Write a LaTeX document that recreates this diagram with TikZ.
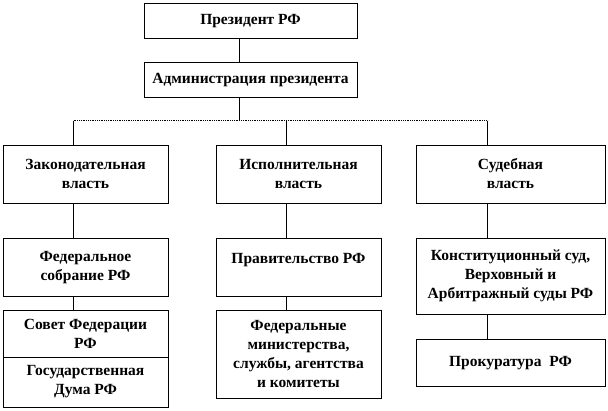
\documentclass[tikz,border=0pt]{standalone}
\usepackage{fontspec}
\setmainfont{Liberation Serif}[BoldFont={Liberation Serif Bold}]
\usetikzlibrary{positioning,calc}

\begin{document}
\begin{tikzpicture}[x=1pt,y=-1pt,
    font=\rmfamily\bfseries\fontsize{15.5}{19}\selectfont,
    box/.style={draw, line width=0.8pt, align=center, inner sep=0pt},
    link/.style={line width=0.8pt},
    bus/.style={line width=0.8pt, densely dotted}]
  \useasboundingbox (0,0) rectangle (608,410);
  % top
  \node[box, minimum width=213, minimum height=35] (pres) at (250.5,21) {Президент РФ};
  \node[box, minimum width=213, minimum height=35] (admin) at (250.5,79.7) {Администрация президента};
  % branches
  \node[box, minimum width=165, minimum height=58] (leg) at (85.5,174) {Законодательная\\власть};
  \node[box, minimum width=165, minimum height=58] (exec) at (298.5,174) {Исполнительная\\власть};
  \node[box, minimum width=189, minimum height=58] (jud) at (510.5,174) {Судебная\\власть};
  % legislative
  \node[box, minimum width=165, minimum height=58] (fed) at (85.5,267.5) {Федеральное\\собрание РФ};
  \node[box, minimum width=165, minimum height=47] (sovet) at (85.5,333.5) {Совет Федерации\\РФ};
  \node[box, minimum width=165, minimum height=50] (duma) at (85.5,382) {Государственная\\Дума РФ};
  % executive
  \node[box, minimum width=165, minimum height=58] (prav) at (298.5,267.5) {Правительство РФ\\~};
  \node[box, minimum width=165, minimum height=88] (minist) at (298.5,354) {Федеральные\\министерства,\\службы, агентства\\и комитеты};
  % judicial
  \node[box, minimum width=189, minimum height=76] (konst) at (510.5,276.3) {Конституционный суд,\\Верховный и\\Арбитражный суды РФ};
  \node[box, minimum width=189, minimum height=46.7] (prok) at (510.5,362.7) {Прокуратура~ РФ};

  \coordinate (trunk) at (239.5,120.7);
  \coordinate (busL) at (73.5,120.7);
  \coordinate (busM) at (286.5,120.7);
  \coordinate (busR) at (487.5,120.7);

  \draw[link] (pres.south -| trunk) -- (admin.north -| trunk);
  \draw[link] (admin.south -| trunk) -- (trunk);
  \draw[bus] (busL) -- (busR);
  \foreach \c/\a/\b in {busL/leg/fed, busM/exec/prav, busR/jud/konst} {
    \draw[link] (\c) -- (\a.north -| \c);
    \draw[link] (\a.south -| \c) -- (\b.north -| \c);
  }
  \draw[link] (fed.south -| busL) -- (sovet.north -| busL);
  \draw[link] (prav.south -| busM) -- (minist.north -| busM);
  \draw[link] (konst.south -| busR) -- (prok.north -| busR);
\end{tikzpicture}
\end{document}
